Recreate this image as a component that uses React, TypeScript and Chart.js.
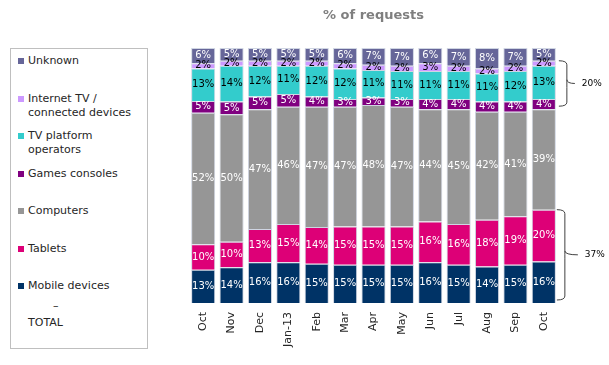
import React, { useEffect, useRef } from "react";
import { Chart, registerables } from "chart.js";

Chart.register(...registerables);

const months = ["Oct", "Nov", "Dec", "Jan-13", "Feb", "Mar", "Apr", "May", "Jun", "Jul", "Aug", "Sep", "Oct"];
// estimated underlying shares (labels show them rounded)
const mobile = [13, 14, 16, 16, 15.4, 15, 15, 15, 16, 15, 14.3, 15, 16.3];
const tablets = [10, 10, 13, 15, 14.4, 15, 15, 15, 16, 16, 18.3, 19, 20.3];
const computers = [51.6, 50, 47, 46, 47.2, 47, 47.6, 47, 44, 45, 42.4, 41, 39.4];
const games = [4.6, 5, 5, 5, 4, 3, 3, 3, 4, 4, 4, 4, 4];
const tvPlatform = [12.8, 14, 12, 11, 12, 12, 10.8, 11, 11, 11, 11, 12, 13];
const internetTv = [2, 2, 2, 2, 2, 2, 2, 2, 3, 2, 2, 2, 2];
const unknown = [6, 5, 5, 5, 5, 6, 6.6, 7, 6, 7, 8, 7, 5];
const bracketLabels = ["20%", "37%"];
const titleText = "% of requests";

const seriesDefs = [
  { label: "Mobile devices", legend: "Mobile devices", data: mobile, color: "#003366", text: "#ffffff" },
  { label: "Tablets", legend: "Tablets", data: tablets, color: "#DD0077", text: "#ffffff" },
  { label: "Computers", legend: "Computers", data: computers, color: "#969696", text: "#ffffff" },
  { label: "Games consoles", legend: "Games consoles", data: games, color: "#800080", text: "#ffffff" },
  { label: "TV platform operators", legend: "TV platform\noperators", data: tvPlatform, color: "#33CCCC", text: "#000000" },
  { label: "Internet TV / connected devices", legend: "Internet TV /\nconnected devices", data: internetTv, color: "#CC99FF", text: "#000000" },
  { label: "Unknown", legend: "Unknown", data: unknown, color: "#666699", text: "#ffffff" },
];

const FONT = "'DejaVu Sans', sans-serif";

const labelPlugin = {
  id: "segLabels",
  afterDatasetsDraw(chart: any) {
    const ctx = chart.ctx;
    ctx.save();
    ctx.font = `10px ${FONT}`;
    ctx.textAlign = "center";
    ctx.textBaseline = "middle";
    chart.data.datasets.forEach((ds: any, di: number) => {
      const meta = chart.getDatasetMeta(di);
      ctx.fillStyle = seriesDefs[di].text;
      meta.data.forEach((el: any, i: number) => {
        const y = (el.y + el.base) / 2;
        ctx.fillText(`${Math.round(ds.data[i])}%`, el.x, y);
      });
    });
    ctx.restore();
  },
};

function brace(ctx: any, x: number, top: number, bottom: number, w: number, tick: number) {
  const mid = (top + bottom) / 2;
  const r = 4;
  ctx.beginPath();
  ctx.moveTo(x, top);
  ctx.quadraticCurveTo(x + w, top, x + w, top + r);
  ctx.lineTo(x + w, mid - r);
  ctx.quadraticCurveTo(x + w, mid, x + w + tick, mid);
  ctx.moveTo(x + w, mid - r);
  ctx.quadraticCurveTo(x + w, mid, x + w, mid + r);
  ctx.lineTo(x + w, bottom - r);
  ctx.quadraticCurveTo(x + w, bottom, x, bottom);
  ctx.stroke();
}

const bracketPlugin = {
  id: "brackets",
  afterDatasetsDraw(chart: any) {
    const ctx = chart.ctx;
    const last = months.length - 1;
    const elInet = chart.getDatasetMeta(5).data[last];
    const elGames = chart.getDatasetMeta(3).data[last];
    const elTab = chart.getDatasetMeta(1).data[last];
    const elMob = chart.getDatasetMeta(0).data[last];
    const right = elInet.x + elInet.width / 2;
    ctx.save();
    ctx.strokeStyle = "#404040";
    ctx.lineWidth = 1;
    brace(ctx, right + 3, elInet.y, elGames.base - 3, 8, 8);
    brace(ctx, right + 1, elTab.y, elMob.base - 3, 8, 13);
    ctx.fillStyle = "#000000";
    ctx.font = `9px ${FONT}`;
    ctx.textAlign = "left";
    ctx.textBaseline = "middle";
    ctx.fillText(bracketLabels[0], right + 26, (elInet.y + elGames.base - 3) / 2);
    ctx.fillText(bracketLabels[1], right + 29, (elTab.y + elMob.base - 3) / 2);
    ctx.restore();
  },
};

export default function App() {
  const ref = useRef<HTMLCanvasElement | null>(null);
  useEffect(() => {
    if (!ref.current) return;
    const chart = new Chart(ref.current, {
      type: "bar",
      data: {
        labels: months,
        datasets: seriesDefs.map((s) => ({
          label: s.label,
          data: s.data,
          backgroundColor: s.color,
          borderColor: "#cfd5e2",
          borderWidth: 1,
          barPercentage: 0.85,
          categoryPercentage: 1,
          clip: false as any,
        })),
      },
      options: {
        animation: false,
        responsive: false,
        layout: { padding: { left: 189, right: 51, top: 0, bottom: 0 } },
        plugins: {
          legend: { display: false },
          tooltip: { enabled: false },
          title: {
            display: true,
            text: titleText,
            color: "#7f7f7f",
            font: { family: FONT, size: 13, weight: "bold" },
            padding: { top: 8, bottom: 24.4 },
          },
        },
        scales: {
          x: {
            stacked: true,
            offset: true,
            grid: { display: false, drawTicks: false },
            border: { display: false },
            ticks: {
              minRotation: 90,
              maxRotation: 90,
              padding: 9,
              color: "#262626",
              font: { family: FONT, size: 11 },
            },
            afterFit(scale: any) {
              scale.height = 62;
            },
          },
          y: {
            stacked: true,
            min: 0,
            max: 100,
            display: false,
          },
        },
      },
      plugins: [labelPlugin, bracketPlugin],
    });
    return () => chart.destroy();
  }, []);

  const legendItems = [...seriesDefs].reverse();

  return (
    <div style={{ position: "fixed", left: 0, top: 0, width: 609, height: 365, background: "#fff" }}>
      <canvas ref={ref} width={609} height={365} style={{ position: "absolute", left: 0, top: 0 }} />
      <div
        style={{
          position: "absolute",
          left: 10,
          top: 48,
          width: 136,
          height: 299,
          border: "1px solid #bfbfbf",
          background: "#fff",
          fontFamily: FONT,
          fontSize: 11,
          color: "#262626",
        }}
      >
        {legendItems.map((s, i) => (
          <div key={s.label} style={{ position: "absolute", left: 7, top: 5 + i * 37.5, whiteSpace: "pre-line", lineHeight: "14px" }}>
            <span
              style={{
                position: "absolute",
                left: 0,
                top: 4,
                width: 6,
                height: 6,
                background: s.color,
              }}
            />
            <div style={{ marginLeft: 10 }}>{s.legend}</div>
          </div>
        ))}
        <div style={{ position: "absolute", left: 42, top: 250, lineHeight: "14px" }}>–</div>
        <div style={{ position: "absolute", left: 17, top: 267, lineHeight: "14px" }}>TOTAL</div>
      </div>
    </div>
  );
}
